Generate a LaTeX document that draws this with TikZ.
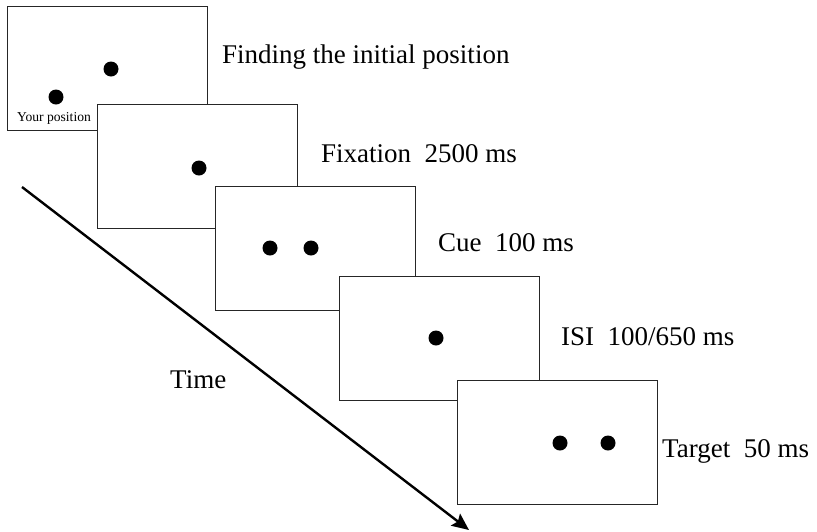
\documentclass[tikz,border=0pt]{standalone}
\usepackage{fontspec}
\setmainfont{Liberation Serif}
\usetikzlibrary{arrows.meta}

\begin{document}
\begin{tikzpicture}[x=1pt, y=-1pt,
    screen/.style={draw=black!85, fill=white, line width=0.9pt, inner sep=0pt,
                   anchor=north west, minimum width=200pt, minimum height=124pt},
    dot/.style={circle, fill=black, inner sep=0pt, minimum size=15pt},
    lbl/.style={anchor=base west, inner sep=0pt, font=\fontsize{27}{32}\selectfont}
  ]
    \useasboundingbox (0,0) rectangle (817,531);

    % stimulus screens, back to front
    \node[screen] (find) at (7,6) {};
    \node[dot] (findA) at (56,97) {};
    \node[dot] (findB) at (111,69) {};
    \node[anchor=base, inner sep=0pt, font=\fontsize{13.6}{16}\selectfont] (you) at (54,121) {Your position};

    \node[screen] (fix) at (97,104) {};
    \node[dot] (fixA) at (199,168) {};

    \node[screen] (cue) at (215,186) {};
    \node[dot] (cueA) at (270,248) {};
    \node[dot] (cueB) at (311,248) {};

    \node[screen] (isi) at (339,276) {};
    \node[dot] (isiA) at (436,338) {};

    \node[screen] (target) at (457,380) {};
    \node[dot] (targetA) at (560,443) {};
    \node[dot] (targetB) at (608,443) {};

    % phase labels
    \node[lbl] (findL) at (222,63) {Finding the initial position};
    \node[lbl] (fixL) at (321,162) {Fixation\ \ 2500 ms};
    \node[lbl] (cueL) at (438,251) {Cue\ \ 100 ms};
    \node[lbl] (isiL) at (561,345) {ISI\ \ 100/650 ms};
    \node[lbl] (targetL) at (662,457) {Target\ \ 50 ms};
    \node[lbl] (timeL) at (170,388) {Time};

    % time axis
    \coordinate (t0) at (22,187);
    \coordinate (t1) at (469,530);
    \draw[line width=2.4pt, -{Stealth[length=17pt, width=15pt, inset=3pt]}] (t0) -- (t1);
  \end{tikzpicture}
\end{document}
